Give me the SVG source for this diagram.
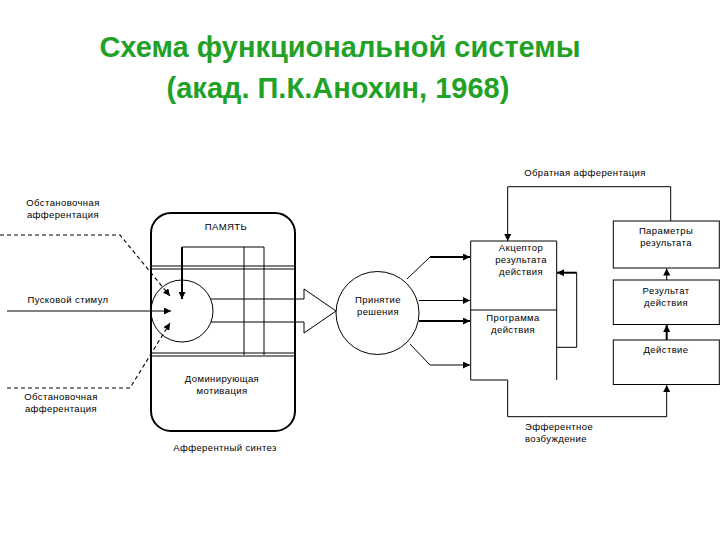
<svg xmlns="http://www.w3.org/2000/svg" width="720" height="540" viewBox="0 0 720 540">
<style>
.t{font-family:"Liberation Sans",Arial,sans-serif;font-size:9.5px;fill:#000;text-anchor:middle;letter-spacing:0.4px}
.ts{font-family:"Liberation Sans",Arial,sans-serif;font-size:9.5px;fill:#000;letter-spacing:0.4px}
.title{font-family:"Liberation Sans",Arial,sans-serif;font-size:29px;font-weight:bold;fill:#22a127;text-anchor:middle}
.ln{fill:none;stroke:#000;stroke-width:1}
.th{fill:none;stroke:#000;stroke-width:2}
.ds{fill:none;stroke:#000;stroke-width:1.1;stroke-dasharray:4,3}
.box{fill:none;stroke:#000;stroke-width:1}
</style>
<defs>
<marker id="ah" markerUnits="userSpaceOnUse" markerWidth="8" markerHeight="7" refX="7" refY="3.5" orient="auto">
<path d="M0,0 L7,3.5 L0,7 z" fill="#000"/>
</marker>
</defs>
<rect width="720" height="540" fill="#fff"/>
<g id="title">
<text class="title" x="340" y="57">Схема функциональной системы</text>
<text class="title" x="338" y="98">(акад. П.К.Анохин, 1968)</text>
</g>
<g id="afferent-synthesis">
<rect x="151" y="213" width="144" height="218" rx="20" fill="none" stroke="#000" stroke-width="2"/>
<line class="ln" x1="151" y1="266" x2="295" y2="266"/>
<line class="ln" x1="151" y1="269" x2="295" y2="269"/>
<line class="ln" x1="151" y1="353" x2="295" y2="353"/>
<line class="ln" x1="151" y1="356" x2="295" y2="356"/>
<text class="t" x="226" y="230">ПАМЯТЬ</text>
<text class="t" x="222" y="382">Доминирующая</text>
<text class="t" x="222" y="394">мотивация</text>
<text class="t" x="225" y="451">Афферентный синтез</text>
<circle cx="182" cy="311" r="31" fill="none" stroke="#000" stroke-width="1"/>
</g>
<g id="decision">
<circle cx="377.5" cy="313" r="41.5" fill="none" stroke="#000" stroke-width="1"/>
<text class="t" x="378" y="303">Принятие</text>
<text class="t" x="378" y="315">решения</text>
</g>
<g id="acceptor">
<path class="box" d="M556.7,310 L556.7,241 L470.7,241 L470.7,380 L507.7,380"/>
<text class="t" x="521" y="251">Акцептор</text>
<text class="t" x="521" y="263">результата</text>
<text class="t" x="521" y="275">действия</text>
</g>
<g id="program">
<path class="box" d="M470.7,310 L556.7,310 L556.7,380"/>
<text class="t" x="513" y="321">Программа</text>
<text class="t" x="513" y="333">действия</text>
</g>
<g id="parameters">
<rect class="box" x="613.3" y="221" width="106" height="47"/>
<text class="t" x="666" y="234">Параметры</text>
<text class="t" x="666" y="246">результата</text>
</g>
<g id="result">
<rect class="box" x="613.3" y="280" width="106" height="44.5"/>
<text class="t" x="666" y="294">Результат</text>
<text class="t" x="666" y="306">действия</text>
</g>
<g id="action">
<rect class="box" x="613.3" y="340" width="106" height="44.5"/>
<text class="t" x="666" y="353">Действие</text>
</g>
<g id="labels">
<text class="t" x="63" y="206">Обстановочная</text>
<text class="t" x="63" y="218">афферентация</text>
<text class="t" x="68" y="303">Пусковой стимул</text>
<text class="t" x="61" y="400">Обстановочная</text>
<text class="t" x="61" y="412">афферентация</text>
<text class="t" x="585" y="176">Обратная афферентация</text>
<text class="ts" x="525" y="430">Эфферентное</text>
<text class="ts" x="525" y="442">возбуждение</text>
</g>
<g id="connectors">
<path class="ds" d="M0,235 L120,235 L170,296" marker-end="url(#ah)"/>
<path class="ds" d="M7,388 L130,388 L170,323" marker-end="url(#ah)"/>
<path class="ln" d="M7,311 L171,311" marker-end="url(#ah)"/>
<path class="th" d="M182,247 L182,299" marker-end="url(#ah)"/>
<path class="ln" d="M182,247 L264,247 L264,355"/>
<path class="ln" d="M244,247 L244,355"/>
<path class="ln" d="M210.6,299 L304,299 L304,289 L336,311 L304,333 L304,322 L211,322"/>
<path class="ln" d="M407,279 L430,257"/>
<path class="th" d="M430,257 L470,257" marker-end="url(#ah)"/>
<path class="ln" d="M419,300.5 L470,300.5" marker-end="url(#ah)"/>
<path class="th" d="M419,321 L470,321" marker-end="url(#ah)"/>
<path class="ln" d="M410,344 L430,365 L470,365" marker-end="url(#ah)"/>
<path class="ln" d="M670.7,221 L670.7,186.7 L507.7,186.7 L507.7,241" marker-end="url(#ah)"/>
<path class="ln" d="M556.7,347.3 L576.7,347.3 L576.7,272.7"/>
<path class="th" d="M576.7,272.7 L557,272.7" marker-end="url(#ah)"/>
<path class="ln" d="M507.7,380 L507.7,416.7 L666.7,416.7 L666.7,385" marker-end="url(#ah)"/>
<path class="th" d="M666.7,340 L666.7,325" marker-end="url(#ah)"/>
<path class="ln" d="M666.7,280 L666.7,268.5" marker-end="url(#ah)"/>
</g>
</svg>
